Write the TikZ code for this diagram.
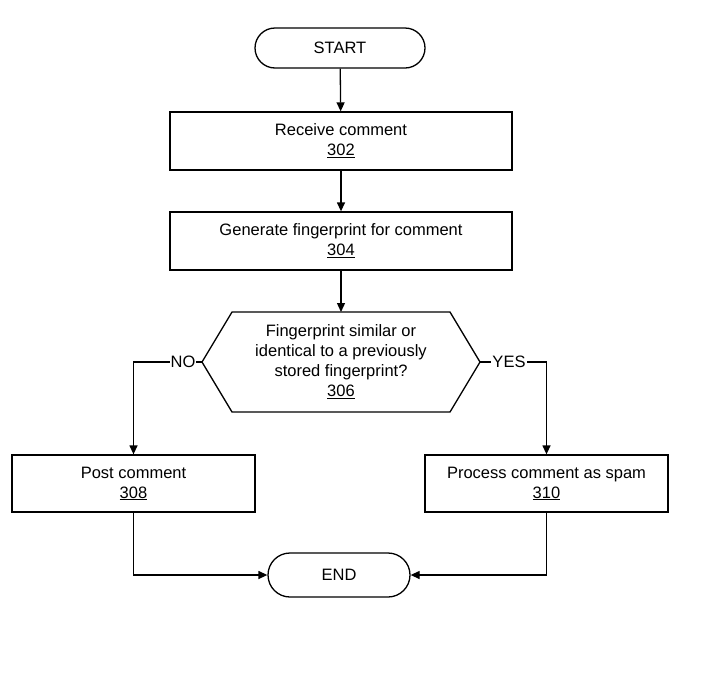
\documentclass[tikz,border=0pt]{standalone}
\usepackage{fontspec}
\setmainfont{Liberation Sans}
\usetikzlibrary{arrows.meta,shapes.misc}
\begin{document}
\begin{tikzpicture}[x=1pt,y=-1pt,
  every node/.style={font=\fontsize{16.5}{20}\selectfont, align=center, line width=1.3pt},
  box/.style={draw, minimum width=342pt, minimum height=58pt, inner sep=0pt},
  sbox/.style={draw, minimum width=243pt, minimum height=57pt, inner sep=0pt},
  term/.style={draw, rounded rectangle, inner sep=0pt},
  conn/.style={line width=1.3pt, -{Triangle[length=9pt,width=8pt]}},
  lab/.style={fill=white, inner sep=1pt}]
\useasboundingbox (0,0) rectangle (706,694);
\node[term, minimum width=170pt, minimum height=40pt] (start) at (340,48) {START};
\node[box] (b302) at (341,141) {Receive comment\\\underline{302}};
\node[box] (b304) at (341,241) {Generate fingerprint for comment\\\underline{304}};
\draw[line width=1.3pt] (202,362) -- (232,312) -- (450,312) -- (480,362) -- (450,412) -- (232,412) -- cycle;
\node (d306) at (341,362) {Fingerprint similar or\\identical to a previously\\stored fingerprint?\\\underline{306}};
\coordinate (dl) at (202,362);
\coordinate (dr) at (480,362);
\node[sbox] (b308) at (133.5,483.5) {Post comment\\\underline{308}};
\node[sbox] (b310) at (546.5,483.5) {Process comment as spam\\\underline{310}};
\node[term, minimum width=142pt, minimum height=44pt] (end) at (339,575) {END};
\draw[conn] (start) -- (b302);
\draw[conn] (b302) -- (b304);
\draw[conn] (b304) -- (341,312);
\draw[conn] (dl) -| (b308.north);
\draw[conn] (dr) -| (b310.north);
\node[lab] at (183,362) {NO};
\node[lab] at (509,362) {YES};
\draw[conn] (b308.south) |- (end.west);
\draw[conn] (b310.south) |- (end.east);
\end{tikzpicture}
\end{document}
